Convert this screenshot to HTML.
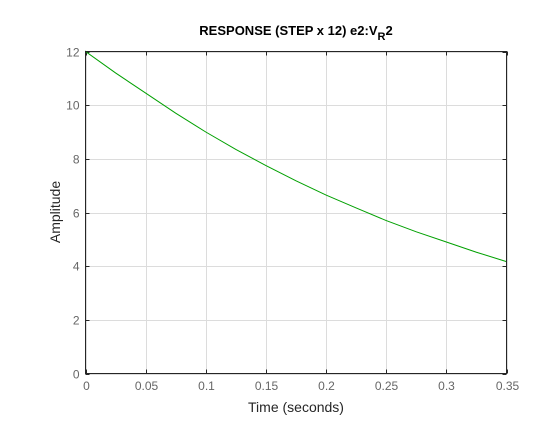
<!DOCTYPE html>
<html><head><meta charset="utf-8"><style>
body{margin:0;background:#fff;width:560px;height:420px;overflow:hidden}
text{font-family:"Liberation Sans",Arial,sans-serif}
</style></head><body>
<svg id="chart" width="560" height="420" xmlns="http://www.w3.org/2000/svg">
<rect x="0" y="0" width="560" height="420" fill="#fff"/>
<rect x="85.5" y="51.5" width="421" height="322" fill="#fff"/>
<g id="grid"></g>
<g id="ticks"></g>
<path id="curve" fill="none" stroke="#00a000" stroke-width="1"/>
<rect x="85.5" y="51.5" width="421" height="322" fill="none" stroke="#262626" stroke-width="1"/>
<text x="296" y="35" text-anchor="middle" font-size="13" font-weight="bold" fill="#000">RESPONSE (STEP x 12) e2:V<tspan font-size="11" dy="5">R</tspan><tspan dy="-5">2</tspan></text>
<text x="296" y="412" text-anchor="middle" font-size="14" fill="#262626">Time (seconds)</text>
<text transform="translate(60,212) rotate(-90)" text-anchor="middle" font-size="14" fill="#262626">Amplitude</text>
</svg>
<script>
const times=[0,0.025,0.05,0.075,0.1,0.125,0.15,0.175,0.2,0.225,0.25,0.275,0.3,0.325,0.35];
const amplitudes=[12,11.2,10.45,9.7,9.0,8.35,7.75,7.18,6.65,6.17,5.7,5.28,4.9,4.52,4.17];
const xTicks=[0,0.05,0.1,0.15,0.2,0.25,0.3,0.35];
const xTickLabels=["0","0.05","0.1","0.15","0.2","0.25","0.3","0.35"];
const yTicks=[0,2,4,6,8,10,12];
const yTickLabels=["0","2","4","6","8","10","12"];
const L=85.5,R=506.5,T=51.5,B=373.5;
const sx=v=>L+(v-0)/(0.35-0)*(R-L);
const sy=v=>B-(v-0)/(12-0)*(B-T);
const NS="http://www.w3.org/2000/svg";
const grid=document.getElementById('grid'),ticks=document.getElementById('ticks');
function ln(p,x1,y1,x2,y2,c){const l=document.createElementNS(NS,'line');l.setAttribute('x1',x1);l.setAttribute('y1',y1);l.setAttribute('x2',x2);l.setAttribute('y2',y2);l.setAttribute('stroke',c);p.appendChild(l);return l;}
function tx(x,y,s,a){const t=document.createElementNS(NS,'text');t.setAttribute('x',x);t.setAttribute('y',y);t.setAttribute('text-anchor',a);t.setAttribute('font-size','12');t.setAttribute('fill','#666');t.textContent=s;ticks.appendChild(t);return t;}
xTicks.forEach((v,i)=>{const x=Math.round(sx(v))+0.5;
const g=ln(grid,x,T,x,B,'#dcdcdc');


ln(ticks,x,B,x,B-4,'#262626');ln(ticks,x,T,x,T+4,'#262626');
const t=tx(x,390,xTickLabels[i],'middle');

});
yTicks.forEach((v,i)=>{const y=Math.round(sy(v))+0.5;
const g=ln(grid,L,y,R,y,'#dcdcdc');


ln(ticks,L,y,L+4,y,'#262626');ln(ticks,R,y,R-4,y,'#262626');
const t=tx(L-6,y+4,yTickLabels[i],'end');

});
let d='M'+sx(times[0])+','+sy(0);
times.forEach((t,i)=>{d+=' L'+sx(t)+','+sy(amplitudes[i]);});
document.getElementById('curve').setAttribute('d',d);
</script>
</body></html>
